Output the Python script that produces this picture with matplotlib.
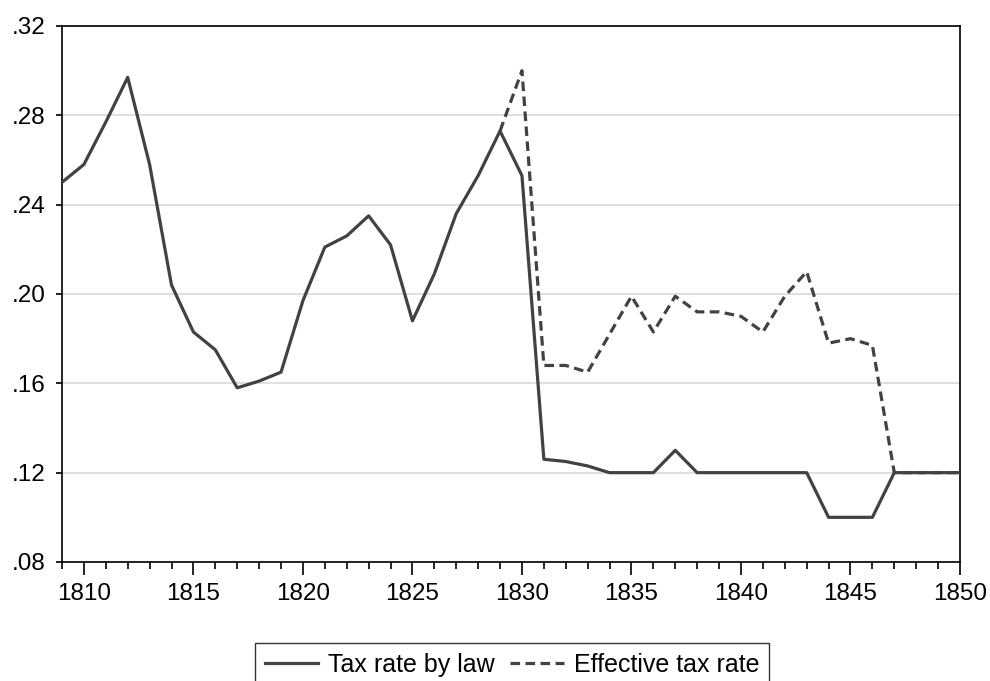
import numpy as np
import matplotlib.pyplot as plt
from matplotlib.ticker import MultipleLocator, FuncFormatter

plt.rcParams['font.family'] = ['Liberation Sans', 'DejaVu Sans']

# Data
# ------------------------------------------------------------------------------
years = list(range(1809, 1851))

tax_by_law = [0.250, 0.258, 0.277, 0.297, 0.258, 0.204, 0.183, 0.175, 0.158, 0.161,
              0.165, 0.197, 0.221, 0.226, 0.235, 0.222, 0.188, 0.209, 0.236, 0.253,
              0.273, 0.253, 0.126, 0.125, 0.123, 0.120, 0.120, 0.120, 0.130, 0.120,
              0.120, 0.120, 0.120, 0.120, 0.120, 0.100, 0.100, 0.100, 0.120, 0.120,
              0.120, 0.120]

eff_years = list(range(1829, 1851))
effective_tax = [0.273, 0.300, 0.168, 0.168, 0.165, 0.182, 0.199, 0.183, 0.199, 0.192,
                 0.192, 0.190, 0.183, 0.199, 0.210, 0.178, 0.180, 0.177, 0.120, 0.120,
                 0.120, 0.120]

y_ticks = [0.08, 0.12, 0.16, 0.20, 0.24, 0.28, 0.32]

# Plot
# ------------------------------------------------------------------------------
fig = plt.figure(figsize=(9.9, 6.81), dpi=100)
ax = fig.add_axes([62/990, 1 - 562/681, (960 - 62)/990, (562 - 26)/681])

col = '#424242'
ax.plot(eff_years, effective_tax, color=col, lw=2.3, ls=(0, (3.0, 1.7)), label='Effective tax rate', zorder=3)
ax.plot(years, tax_by_law, color=col, lw=2.3, label='Tax rate by law', zorder=4)

ax.set_xlim(1809, 1850)
ax.set_ylim(0.08, 0.32)
ax.set_yticks(y_ticks)
ax.yaxis.set_major_formatter(FuncFormatter(lambda v, p: ('%.2f' % v)[1:]))
ax.xaxis.set_major_locator(MultipleLocator(5))
ax.xaxis.set_minor_locator(MultipleLocator(1))
ax.grid(axis='y', color='#d9d9d9', lw=1.2)
ax.set_axisbelow(True)

for s in ax.spines.values():
    s.set_color('black')
    s.set_linewidth(1.2)
ax.tick_params(axis='both', labelsize=17.5, colors='black', direction='out')
ax.tick_params(axis='x', which='major', length=9, width=1.2, pad=6)
ax.tick_params(axis='x', which='minor', length=5, width=1.2)
ax.tick_params(axis='y', length=4, width=1.2, pad=8)

h, l = ax.get_legend_handles_labels()
leg = fig.legend(h[::-1], l[::-1], loc='upper center', bbox_to_anchor=(512/990, 1 - 643/681),
                 ncol=2, fontsize=18, frameon=True, fancybox=False, edgecolor='black',
                 handlelength=2.15, columnspacing=0.6, handletextpad=0.4,
                 borderpad=0.4, borderaxespad=0)
leg.get_frame().set_linewidth(1.0)

fig.savefig('out.png', dpi=100)
